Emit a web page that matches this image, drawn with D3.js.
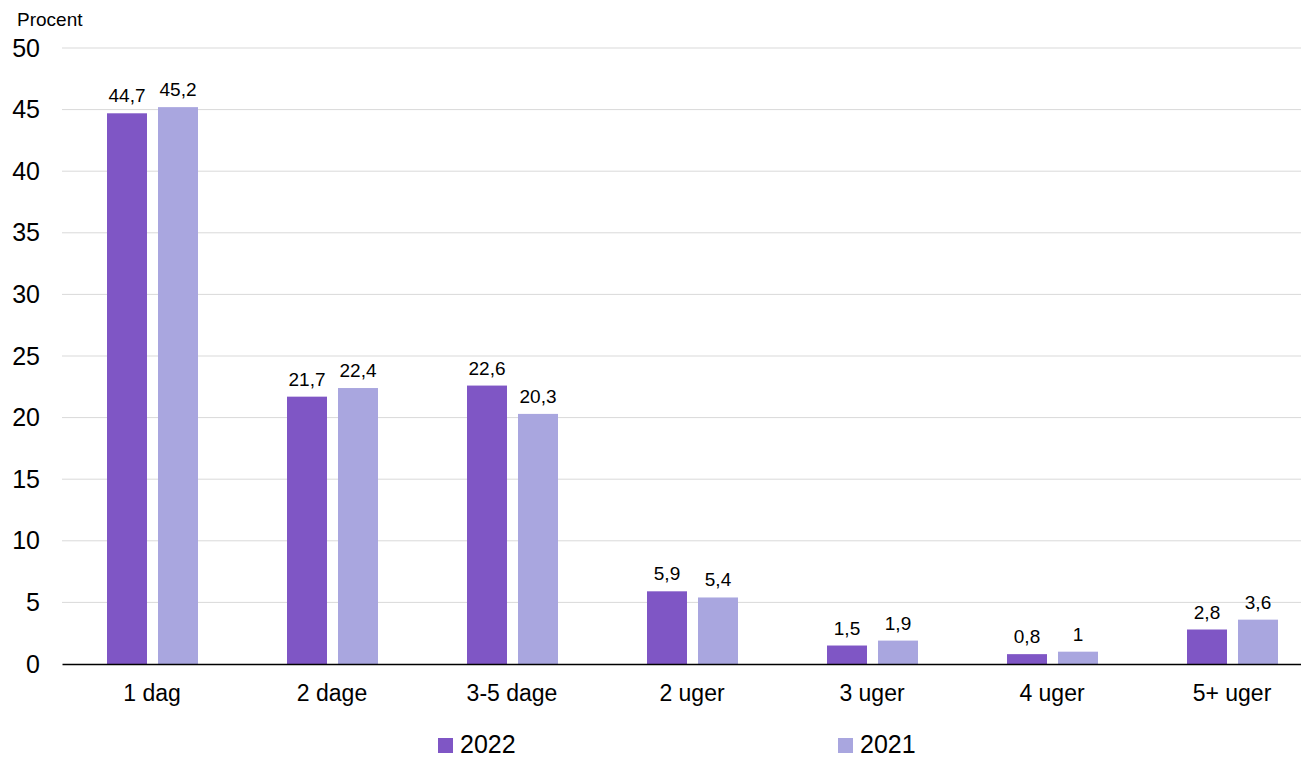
<!DOCTYPE html>
<html>
<head>
<meta charset="utf-8">
<script src="https://cdn.jsdelivr.net/npm/d3@7"></script>
<style>
  html, body { margin: 0; padding: 0; background: #fff; }
  svg { display: block; font-family: "Liberation Sans", Arial, sans-serif; }
</style>
</head>
<body>
<svg id="chart" width="1301" height="758"></svg>
<script>
// Varighed af fraværsperioder, procent
const categories = ["1 dag", "2 dage", "3-5 dage", "2 uger", "3 uger", "4 uger", "5+ uger"];
const values2022 = [44.7, 21.7, 22.6, 5.9, 1.5, 0.8, 2.8];
const values2021 = [45.2, 22.4, 20.3, 5.4, 1.9, 1.0, 3.6];
const seriesNames = ["2022", "2021"];
const seriesColors = ["#7f56c5", "#a9a6df"];
const yTicks = [0, 5, 10, 15, 20, 25, 30, 35, 40, 45, 50];

const svg = d3.select("#chart");
const margin = { left: 62, top: 48, bottom: 664 };
const bandStep = 180;
const plotRight = margin.left + bandStep * categories.length;

const x = d3.scaleBand().domain(categories).range([margin.left, plotRight]);
const xSeries = d3.scaleOrdinal().domain(seriesNames).range([-45, 6]);
const barWidth = 40;
const y = d3.scaleLinear().domain([0, 50]).range([margin.bottom, margin.top]);

const fmt = v => String(v).replace(".", ",");

// gridlines
svg.append("g")
  .selectAll("line")
  .data(yTicks.filter(t => t > 0))
  .join("line")
  .attr("x1", margin.left).attr("x2", plotRight)
  .attr("y1", d => y(d)).attr("y2", d => y(d))
  .attr("stroke", "#d9d9d9").attr("stroke-width", 1);

// y axis labels
const yAxis = d3.axisLeft(y).tickValues(yTicks).tickSize(0).tickPadding(22).tickFormat(d3.format("d"));
const yG = svg.append("g").attr("transform", `translate(${margin.left},0)`).call(yAxis);
yG.select(".domain").remove();
yG.selectAll("text").attr("font-size", 25).attr("fill", "#000")
  .attr("font-family", "Liberation Sans, Arial, sans-serif");

// y axis title
svg.append("text").attr("x", 17).attr("y", 26).attr("font-size", 19).attr("fill", "#000").text("Procent");

// bars and value labels
const series = [values2022, values2021];
series.forEach((vals, si) => {
  const g = svg.append("g");
  const rows = categories.map((c, i) => ({ c, v: vals[i] }));
  g.selectAll("rect")
    .data(rows)
    .join("rect")
    .attr("x", d => x(d.c) + x.bandwidth() / 2 + xSeries(seriesNames[si]))
    .attr("width", barWidth)
    .attr("y", d => y(d.v))
    .attr("height", d => y(0) - y(d.v))
    .attr("fill", seriesColors[si]);
  g.selectAll("text")
    .data(rows)
    .join("text")
    .attr("x", d => x(d.c) + x.bandwidth() / 2 + xSeries(seriesNames[si]) + barWidth / 2)
    .attr("y", d => y(d.v) - 11)
    .attr("text-anchor", "middle")
    .attr("font-size", 19)
    .attr("fill", "#000")
    .text(d => fmt(d.v));
});

// x axis
const xAxis = d3.axisBottom(x).tickSize(0).tickPadding(21);
const xG = svg.append("g").attr("transform", `translate(0,${y(0)})`).call(xAxis);
xG.select(".domain").attr("stroke", "#000").attr("stroke-width", 1.5);
xG.selectAll("text").attr("font-size", 23).attr("fill", "#000")
  .attr("font-family", "Liberation Sans, Arial, sans-serif");

// legend
const legendX = [438, 838];
const legend = svg.append("g");
seriesNames.forEach((name, i) => {
  legend.append("rect").attr("x", legendX[i]).attr("y", 738).attr("width", 15).attr("height", 15)
    .attr("fill", seriesColors[i]);
  legend.append("text").attr("x", legendX[i] + 22).attr("y", 753).attr("font-size", 25)
    .attr("fill", "#000").text(name);
});
</script>
</body>
</html>
